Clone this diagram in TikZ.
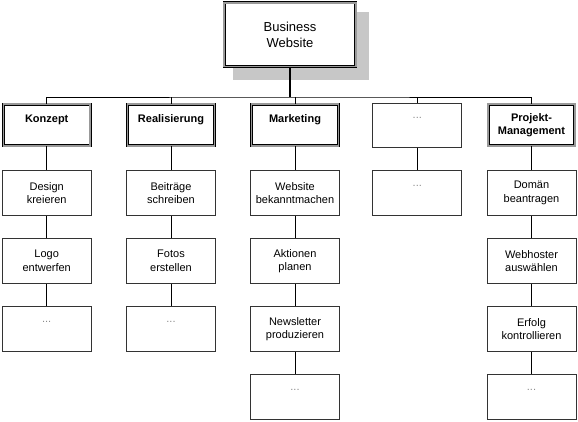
\documentclass[tikz,border=0pt]{standalone}
\usepackage{fontspec}
\setmainfont{Liberation Sans}
\newcommand{\platzhalter}{\textcolor{black!45}{...}\\\mbox{}}
\begin{document}
\begin{tikzpicture}[x=1pt,y=-1pt,
  every node/.style={align=center,font=\fontsize{11}{13.5}\selectfont},
  task/.style={draw=black!80,line width=1pt,fill=white,minimum width=89pt,minimum height=45pt,inner sep=1pt},
  area/.style={draw,line width=0.7pt,double=black!40,double distance=1.6pt,fill=white,
    minimum width=86.8pt,minimum height=41.8pt,inner sep=1pt,font=\fontsize{11}{13.5}\selectfont\bfseries}]
\useasboundingbox (0,0) rectangle (578,421);
% shadow behind the top box
\fill[black!22] (233,12) rectangle (369,80);
\node[area,minimum width=131.8pt,minimum height=63.8pt,font=\fontsize{13}{15.5}\selectfont] (web) at (290,34.7) {Business\\Website};
% first level
\node[area] (konzept) at (46.7,125) {Konzept\\\mbox{}};
\node[area] (real) at (171,125) {Realisierung\\\mbox{}};
\node[area] (mark) at (295,125) {Marketing\\\mbox{}};
\node[task,minimum height=44pt] (more) at (417.3,125) {\platzhalter};
\node[area] (pm) at (531.5,125) {Projekt-\\Management};
% Konzept
\node[task] (design) at (46.7,193) {Design\\kreieren};
\node[task] (logo) at (46.7,261) {Logo\\entwerfen};
\node[task] (kdots) at (46.7,329) {\platzhalter};
% Realisierung
\node[task] (beitr) at (171,193) {Beitr\"age\\schreiben};
\node[task] (fotos) at (171,261) {Fotos\\erstellen};
\node[task] (rdots) at (171,329) {\platzhalter};
% Marketing
\node[task] (bekannt) at (295,193) {Website\\bekanntmachen};
\node[task] (aktion) at (295,261) {Aktionen\\planen};
\node[task] (news) at (295,329) {Newsletter\\produzieren};
\node[task] (mdots) at (295,397) {\platzhalter};
% ...
\node[task] (odots) at (417.3,193) {\platzhalter};
% Projekt-Management
\node[task] (domain) at (531.5,193) {Dom\"an\\beantragen};
\node[task] (hoster) at (531.5,261) {Webhoster\\ausw\"ahlen};
\node[task] (erfolg) at (531.5,329) {Erfolg\\kontrollieren};
\node[task] (pdots) at (531.5,397) {\platzhalter};
% connectors
\coordinate (bus) at (290,97);
\draw[line width=1.6pt] (web) -- (bus);
\draw[line width=0.8pt] (konzept.north) |- (bus) -| (pm.north);
\foreach \n in {real,mark,more}
  \draw[line width=0.8pt] (\n.north) -- (\n.north |- bus);
\draw[line width=0.8pt] (konzept) -- (design) -- (logo) -- (kdots);
\draw[line width=0.8pt] (real) -- (beitr) -- (fotos) -- (rdots);
\draw[line width=0.8pt] (mark) -- (bekannt) -- (aktion) -- (news) -- (mdots);
\draw[line width=0.8pt] (more) -- (odots);
\draw[line width=0.8pt] (pm) -- (domain) -- (hoster) -- (erfolg) -- (pdots);
\end{tikzpicture}
\end{document}
